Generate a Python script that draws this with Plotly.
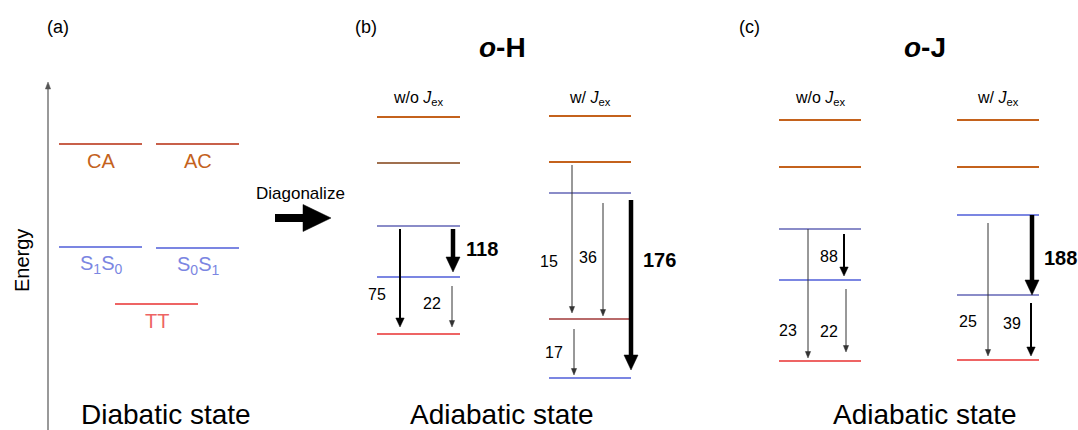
import plotly.graph_objects as go

W, H = 1078, 430
FONT = "Liberation Sans, Arial, sans-serif"

ORANGE = "#c4621c"
BROWN = "#a0704f"
BLUE = "#7b86e2"
GRAYBLUE = "#8a8cc8"
RED = "#ee6464"
ROSE = "#b86a6a"
CA_RED = "#c8604a"

# ---- Panel (a): diabatic levels ----
diab_names = ["CA", "AC", "S<sub>1</sub>S<sub>0</sub>", "S<sub>0</sub>S<sub>1</sub>", "TT"]
diab_energy = [144, 144, 247, 248, 304]
diab_x0 = [59, 156, 59, 156, 115]
diab_x1 = [142, 239, 142, 239, 198]
diab_line_col = [CA_RED, CA_RED, BLUE, BLUE, RED]
diab_text_col = [ORANGE, ORANGE, BLUE, BLUE, RED]

# ---- Adiabatic columns ----
col_names = ["oH_wo", "oH_w", "oJ_wo", "oJ_w"]
col_x0 = [377, 549, 779, 957]
col_x1 = [460, 631, 861, 1039]
col_energy = [
    [117, 163, 226, 277, 334],
    [116, 162, 193, 319, 378],
    [120, 167, 229, 280, 361],
    [120, 167, 215, 295, 360],
]
col_colors = [
    [ORANGE, BROWN, GRAYBLUE, BLUE, RED],
    [ORANGE, ORANGE, GRAYBLUE, ROSE, BLUE],
    [ORANGE, ORANGE, GRAYBLUE, BLUE, RED],
    [ORANGE, ORANGE, BLUE, GRAYBLUE, RED],
]
col_headers = ["w/o <i>J</i><sub>ex</sub>", "w/ <i>J</i><sub>ex</sub>",
               "w/o <i>J</i><sub>ex</sub>", "w/ <i>J</i><sub>ex</sub>"]

# ---- Rates (arrows) ----
rate_values = [75, 118, 22, 15, 36, 176, 17, 23, 88, 22, 25, 188, 39]
rate_x = [400, 453, 452, 572, 603, 631, 574, 808, 844, 846, 988, 1032, 1031]
rate_from = [229, 229, 286, 165, 203, 200, 329, 229, 234, 289, 223, 215, 303]
rate_to = [327, 272, 327, 313, 316, 370, 375, 358, 276, 352, 356, 295, 356]
rate_lab_x = [377, 482, 432, 549, 588, 659, 554, 788, 829, 829, 968, 1060, 1012]
rate_lab_y = [294, 249, 303, 261, 257, 260, 352, 330, 256, 331, 321, 258, 323]
rate_weight = ["m", "b", "t", "t", "t", "b", "t", "t", "m", "t", "t", "b", "m"]

fig = go.Figure()
fig.add_trace(go.Scatter(x=[0, W], y=[0, H], mode="markers",
                         marker=dict(opacity=0), hoverinfo="skip", showlegend=False))

shapes = []
ann = []

def line(x0, x1, y0, y1, color, width=2):
    shapes.append(dict(type="line", xref="x", yref="y", x0=x0, x1=x1, y0=y0, y1=y1,
                       line=dict(color=color, width=width)))

def text(x, y, t, size, color="black", bold=False, **kw):
    if bold:
        t = "<b>" + t + "</b>"
    ann.append(dict(x=x, y=y, xref="x", yref="y", text=t, showarrow=False,
                    font=dict(family=FONT, size=size, color=color), **kw))

def varrow(x, y0, y1, w, hw, hl, color="black"):
    d = 1 if y1 > y0 else -1
    line(x, x, y0, y1 - d * hl * 0.8, color, w)
    shapes.append(dict(type="path", xref="x", yref="y",
                       path=f"M{x - hw},{y1 - d * hl} L{x + hw},{y1 - d * hl} L{x},{y1} Z",
                       fillcolor=color, line=dict(color=color, width=0.5)))

def harrow(y, x0, x1, w, hw, hl, color="black"):
    line(x0, x1 - hl * 0.8, y, y, color, w)
    shapes.append(dict(type="path", xref="x", yref="y",
                       path=f"M{x1 - hl},{y - hw} L{x1 - hl},{y + hw} L{x1},{y} Z",
                       fillcolor=color, line=dict(color=color, width=0.5)))

# Panel labels and titles
text(58, 27, "(a)", 18)
text(366, 27, "(b)", 18)
text(749, 27, "(c)", 18)
text(502, 47, "<i>o</i>-H", 28, bold=True)
text(925, 47, "<i>o</i>-J", 28, bold=True)

# Energy axis
varrow(48, 430, 82, 1.2, 2.6, 7, color="#555555")
text(22, 261, "Energy", 20, textangle=-90)

for n, e, a, b, lc, tc in zip(diab_names, diab_energy, diab_x0, diab_x1,
                              diab_line_col, diab_text_col):
    line(a, b, e, e, lc)
    text((a + b) / 2, e + 17, n, 20, color=tc)

text(166, 414, "Diabatic state", 28)

# Diagonalize arrow
text(300, 193, "Diagonalize", 17)
harrow(218, 275, 331, 8, 13.5, 28)

for x0, x1, es, cs, hd in zip(col_x0, col_x1, col_energy, col_colors, col_headers):
    for e, c in zip(es, cs):
        line(x0, x1, e, e, c)
    text((x0 + x1) / 2, 98, hd, 16)

weights = {"t": (1.0, "#333333", 16, False, 2.6, 6.5),
           "m": (2.0, "black", 16, False, 4.2, 9),
           "b": (4.5, "black", 20, True, 7.0, 15)}
for v, x, a, b, lx, ly, w in zip(rate_values, rate_x, rate_from, rate_to,
                                 rate_lab_x, rate_lab_y, rate_weight):
    wd, col, fs, bold, hw, hl = weights[w]
    varrow(x, a, b, wd, hw, hl, color=col)
    text(lx, ly, str(v), fs, bold=bold)

text(502, 414, "Adiabatic state", 28)
text(925, 414, "Adiabatic state", 28)

fig.update_layout(
    width=W, height=H, margin=dict(l=0, r=0, t=0, b=0),
    paper_bgcolor="white", plot_bgcolor="white",
    xaxis=dict(range=[0, W], visible=False, fixedrange=True),
    yaxis=dict(range=[H, 0], visible=False, fixedrange=True),
    shapes=shapes, annotations=ann, showlegend=False,
)
fig.write_html("out.html", config={"displayModeBar": False},
               post_script="document.body.style.margin='0px';document.body.style.padding='0px';document.body.style.overflow='hidden';")
